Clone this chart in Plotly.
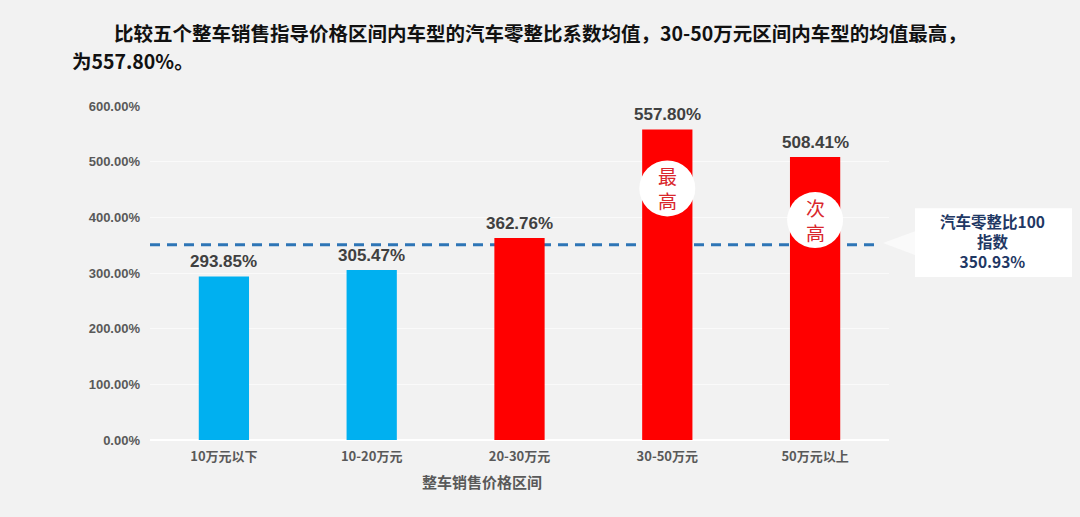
import plotly.graph_objects as go

categories = ["10万元以下", "10-20万元", "20-30万元", "30-50万元", "50万元以上"]
values = [293.85, 305.47, 362.76, 557.80, 508.41]
bar_colors = ["#00B0F0", "#00B0F0", "#FF0000", "#FF0000", "#FF0000"]
benchmark = 350.93
y_ticks = [0, 100, 200, 300, 400, 500, 600]
badges = [(3, "最<br>高", 452), (4, "次<br>高", 395)]

W, H = 1080, 517
L, R, T, B = 150, 889, 105.5, 440.5


def px(x):
    return (x - L) / (R - L)


def py(y):
    return (B - y) / (B - T)


FONT = "Liberation Sans, Arial, Noto Sans CJK SC, sans-serif"

fig = go.Figure()
fig.add_trace(go.Bar(
    x=categories, y=values, marker=dict(color=bar_colors, line=dict(width=0)),
    hoverinfo="x+y", showlegend=False,
))

annotations = []
for c, v in zip(categories, values):
    annotations.append(dict(
        x=c, y=v, xref="x", yref="y", text=f"<b>{v:.2f}%</b>", showarrow=False,
        xanchor="center", yanchor="bottom", yshift=3,
        font=dict(size=17, color="#404040", family=FONT)))

shapes = [
    dict(type="line", xref="paper", yref="y", x0=0, x1=px(880), y0=benchmark, y1=benchmark,
         line=dict(color="#2E75B6", width=3, dash="10px,7px"), layer="below"),
]

for idx, txt, yv in badges:
    shapes.append(dict(type="circle", xref="x", yref="y", xsizemode="pixel", ysizemode="pixel",
                       xanchor=idx, yanchor=yv, x0=-28, x1=28, y0=-28, y1=28,
                       fillcolor="white", line=dict(width=0), layer="above"))
    annotations.append(dict(x=idx, y=yv, xref="x", yref="y", text=txt, showarrow=False,
                            xanchor="center", yanchor="middle",
                            font=dict(size=19, color="#D9262C", family="Noto Sans CJK SC"),
                            align="center"))

# callout box
shapes.append(dict(type="path", xref="paper", yref="paper",
                   path=f"M {px(915)},{py(231)} L {px(883)},{py(243)} L {px(915)},{py(255)} Z",
                   fillcolor="#FAFAFA", line=dict(width=0)))
shapes.append(dict(type="rect", xref="paper", yref="paper",
                   x0=px(915), x1=px(1072), y0=py(277), y1=py(208),
                   fillcolor="white", line=dict(width=0)))
annotations.append(dict(x=px(993), y=py(241), xref="paper", yref="paper",
                        xanchor="center", yanchor="middle", align="center",
                        text=f"<b>汽车零整比100<br>指数<br>{benchmark:.2f}%</b>", showarrow=False,
                        font=dict(size=15.5, color="#1F3864", family="Noto Sans CJK SC")))

# title
annotations.append(dict(x=px(112), y=py(32), xref="paper", yref="paper",
                        xanchor="left", yanchor="middle",
                        text="<b>比较五个整车销售指导价格区间内车型的汽车零整比系数均值，30-50万元区间内车型的均值最高，</b>",
                        showarrow=False, font=dict(size=19.5, color="#111111", family="Noto Sans CJK SC")))
annotations.append(dict(x=px(70), y=py(60), xref="paper", yref="paper",
                        xanchor="left", yanchor="middle",
                        text="<b>为557.80%。</b>",
                        showarrow=False, font=dict(size=19.5, color="#111111", family="Noto Sans CJK SC")))
# x axis title
annotations.append(dict(x=px(482), y=py(482), xref="paper", yref="paper",
                        xanchor="center", yanchor="middle",
                        text="<b>整车销售价格区间</b>", showarrow=False,
                        font=dict(size=15, color="#595959", family="Noto Sans CJK SC")))

fig.update_layout(
    width=W, height=H,
    margin=dict(l=L, r=W - R, t=T, b=H - B, pad=0),
    paper_bgcolor="#F2F2F2", plot_bgcolor="#F2F2F2",
    bargap=0.66,
    shapes=shapes, annotations=annotations,
    font=dict(family=FONT),
    xaxis=dict(type="category", showgrid=False, showline=False, zeroline=False,
               tickfont=dict(size=13, color="#595959", family="Noto Sans CJK SC"),
               tickprefix="<b>", ticksuffix="</b>", ticks="", ticklabelstandoff=7),
    yaxis=dict(range=[0, 600], tickvals=y_ticks, ticktext=[f"<b>{t:.2f}%</b>" for t in y_ticks],
               showgrid=True, gridcolor="#FAFAFA", gridwidth=1, zeroline=True,
               zerolinecolor="#FFFFFF", zerolinewidth=2, showline=False,
               tickfont=dict(size=13, color="#595959", family=FONT), ticks="",
               ticklabelstandoff=9),
)

fig.write_html("out.html")
